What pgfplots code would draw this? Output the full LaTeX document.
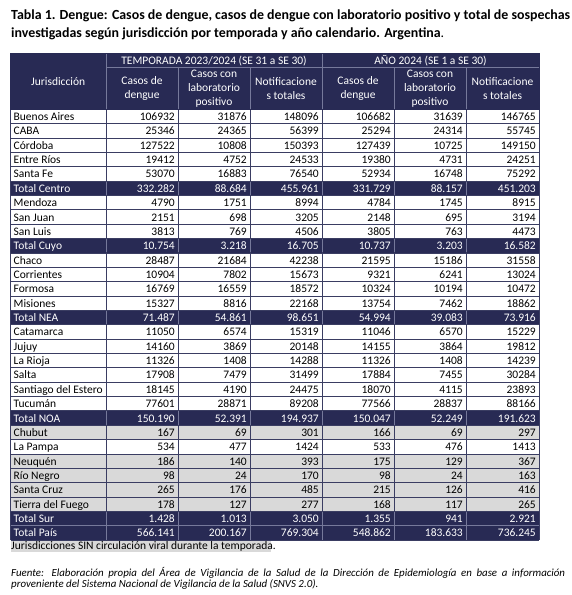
\documentclass[border=0pt]{standalone}
\usepackage{fontspec}
\setmainfont{Carlito}
\usepackage{pgfplots}
\usepackage{pgfplotstable}
\pgfplotsset{compat=1.18}
\definecolor{navy}{RGB}{40,42,84}
\definecolor{gridc}{RGB}{58,61,98}
\definecolor{lgrid}{RGB}{118,121,155}
\definecolor{rowgray}{RGB}{217,217,217}
\newcommand\body{\fontsize{11.5}{14}\selectfont}

\pgfplotstableread[col sep=comma,row sep=\\]{
r,name,a,b,c,d,e,f\\
0,Buenos Aires,106932,31876,148096,106682,31639,146765\\
1,CABA,25346,24365,56399,25294,24314,55745\\
2,Córdoba,127522,10808,150393,127439,10725,149150\\
3,Entre Ríos,19412,4752,24533,19380,4731,24251\\
4,Santa Fe,53070,16883,76540,52934,16748,75292\\
6,Mendoza,4790,1751,8994,4784,1745,8915\\
7,San Juan,2151,698,3205,2148,695,3194\\
8,San Luis,3813,769,4506,3805,763,4473\\
10,Chaco,28487,21684,42238,21595,15186,31558\\
11,Corrientes,10904,7802,15673,9321,6241,13024\\
12,Formosa,16769,16559,18572,10324,10194,10472\\
13,Misiones,15327,8816,22168,13754,7462,18862\\
15,Catamarca,11050,6574,15319,11046,6570,15229\\
16,Jujuy,14160,3869,20148,14155,3864,19812\\
17,La Rioja,11326,1408,14288,11326,1408,14239\\
18,Salta,17908,7479,31499,17884,7455,30284\\
19,Santiago del Estero,18145,4190,24475,18070,4115,23893\\
20,Tucumán,77601,28871,89208,77566,28837,88166\\
22,Chubut,167,69,301,166,69,297\\
23,La Pampa,534,477,1424,533,476,1413\\
24,Neuquén,186,140,393,175,129,367\\
25,Río Negro,98,24,170,98,24,163\\
26,Santa Cruz,265,176,485,215,126,416\\
27,Tierra del Fuego,178,127,277,168,117,265\\
}\prov

\pgfplotstableread[col sep=comma,row sep=\\]{
r,name,a,b,c,d,e,f\\
5,Total Centro,332.282,88.684,455.961,331.729,88.157,451.203\\
9,Total Cuyo,10.754,3.218,16.705,10.737,3.203,16.582\\
14,Total NEA,71.487,54.861,98.651,54.994,39.083,73.916\\
21,Total NOA,150.190,52.391,194.937,150.047,52.249,191.623\\
28,Total Sur,1.428,1.013,3.050,1.355,941,2.921\\
29,Total País,566.141,200.167,769.304,548.862,183.633,736.245\\
}\totals

% #1 table, #2 column, #3 x, #4 anchor, #5 text colour
\newcommand\tabcol[5]{%
\addplot[draw=none, mark=none, nodes near coords, point meta=explicit symbolic,
  every node near coord/.style={anchor=#4, inner sep=0pt, font=\body, text=#5}]
  table[x expr=#3, y expr={109.3+14.36*(\thisrow{r}+0.5)+4.0}, meta=#2]{#1};}

\newcommand\rowy[1]{109.3+14.36*#1}
\newcommand\lightv[1]{%
  \draw[lgrid, line width=0.6pt] (axis cs:#1,{\rowy{5}+0.5}) -- (axis cs:#1,{\rowy{6}-0.5});
  \draw[lgrid, line width=0.6pt] (axis cs:#1,{\rowy{9}+0.5}) -- (axis cs:#1,{\rowy{10}-0.5});
  \draw[lgrid, line width=0.6pt] (axis cs:#1,{\rowy{14}+0.5}) -- (axis cs:#1,{\rowy{15}-0.5});
  \draw[lgrid, line width=0.6pt] (axis cs:#1,{\rowy{21}+0.5}) -- (axis cs:#1,{\rowy{22}-0.5});
  \draw[lgrid, line width=0.6pt] (axis cs:#1,{\rowy{28}+0.5}) -- (axis cs:#1,{\rowy{30}-0.5});}

\begin{document}
\begin{tikzpicture}
\begin{axis}[width=571pt, height=595pt, scale only axis,
  xmin=0, xmax=571, ymin=0, ymax=595, y dir=reverse,
  hide axis, clip=false]
\addplot[draw=none, mark=none] coordinates {(0,0) (571,595)};
% backgrounds
\fill[navy] (axis cs:10.5,53.3) rectangle (axis cs:539,109.3);
\pgfplotsinvokeforeach{5,9,14,21,28,29}{%
  \fill[navy] (axis cs:10.5,{\rowy{#1}}) rectangle (axis cs:539,{\rowy{(#1+1)}});}
\pgfplotsinvokeforeach{22,24,25,26,27}{%
  \fill[rowgray] (axis cs:10.5,{\rowy{#1}}) rectangle (axis cs:539,{\rowy{(#1+1)}});}
% grid in body
\pgfplotsinvokeforeach{0,...,30}{%
  \draw[gridc, line width=0.8pt] (axis cs:10.5,{\rowy{#1}}) -- (axis cs:539,{\rowy{#1}});}
\pgfplotsinvokeforeach{10.5,106,178,250,322,394,466,539}{%
  \draw[gridc, line width=0.8pt] (axis cs:#1,109.3) -- (axis cs:#1,{\rowy{30}});}
% light verticals over dark rows
\pgfplotsinvokeforeach{106,178,250,322,394,466}{\lightv{#1}}
\draw[lgrid, line width=0.6pt] (axis cs:10.5,{\rowy{29}}) -- (axis cs:539,{\rowy{29}});
% header lines
\draw[lgrid, line width=0.6pt] (axis cs:106,53.8) -- (axis cs:106,109);
\draw[lgrid, line width=0.6pt] (axis cs:322,53.8) -- (axis cs:322,109);
\draw[lgrid, line width=0.6pt] (axis cs:106,67.5) -- (axis cs:538.5,67.5);
\pgfplotsinvokeforeach{178,250,394,466}{%
  \draw[lgrid, line width=0.6pt] (axis cs:#1,67.5) -- (axis cs:#1,109);}
\draw[navy, line width=0.8pt] (axis cs:10.5,53.3) rectangle (axis cs:539,109.3);
% header texts
\node[font=\body, text=white, anchor=base] at (axis cs:58.2,85.4) {Jurisdicción};
\node[font=\body, text=white, anchor=base] at (axis cs:214,64.4) {TEMPORADA 2023/2024 (SE 31 a SE 30)};
\node[font=\body, text=white, anchor=base] at (axis cs:430.5,64.4) {AÑO 2024 (SE 1 a SE 30)};
\node[font=\body, text=white, align=center, anchor=center, inner sep=0pt] at (axis cs:142,88.4) {Casos de\\dengue};
\node[font=\body, text=white, align=center, anchor=center, inner sep=0pt] at (axis cs:214,88.4) {Casos con\\laboratorio\\positivo};
\node[font=\body, text=white, align=center, anchor=center, inner sep=0pt] at (axis cs:286,88.4) {Notificacione\\s totales};
\node[font=\body, text=white, align=center, anchor=center, inner sep=0pt] at (axis cs:358,88.4) {Casos de\\dengue};
\node[font=\body, text=white, align=center, anchor=center, inner sep=0pt] at (axis cs:430,88.4) {Casos con\\laboratorio\\positivo};
\node[font=\body, text=white, align=center, anchor=center, inner sep=0pt] at (axis cs:502.5,88.4) {Notificacione\\s totales};
% body texts
\tabcol{\prov}{name}{13.5}{base west}{black}
\tabcol{\prov}{a}{175}{base east}{black}
\tabcol{\prov}{b}{247}{base east}{black}
\tabcol{\prov}{c}{319}{base east}{black}
\tabcol{\prov}{d}{391}{base east}{black}
\tabcol{\prov}{e}{463}{base east}{black}
\tabcol{\prov}{f}{536}{base east}{black}
\tabcol{\totals}{name}{13.5}{base west}{white}
\tabcol{\totals}{a}{175}{base east}{white}
\tabcol{\totals}{b}{247}{base east}{white}
\tabcol{\totals}{c}{319}{base east}{white}
\tabcol{\totals}{d}{391}{base east}{white}
\tabcol{\totals}{e}{463}{base east}{white}
\tabcol{\totals}{f}{536}{base east}{white}
% title
\node[font=\bfseries\fontsize{13.9}{16}\selectfont, anchor=base west, inner sep=0pt] at (axis cs:11,19.8)
  {Tabla 1. Dengue: Casos de dengue, casos de dengue con laboratorio positivo y total de sospechas};
\node[font=\bfseries\fontsize{13.9}{16}\selectfont, anchor=base west, inner sep=0pt] at (axis cs:11,37.6)
  {investigadas según jurisdicción por temporada y año calendario. Argentina{\mdseries.}};
% footnotes
\fill[rowgray] (axis cs:10.5,540.6) rectangle (axis cs:271,552);
\node[font=\body, anchor=base west, inner sep=0pt] at (axis cs:11,549.6)
  {Jurisdicciones SIN circulación viral durante la temporada.};
\node[font=\itshape\fontsize{10.9}{12}\selectfont, anchor=base west, inner sep=0pt] at (axis cs:11,576.6)
  {\makebox[554pt][s]{Fuente: Elaboración propia del Área de Vigilancia de la Salud de la Dirección de Epidemiología en base a información}};
\node[font=\itshape\fontsize{10.9}{12}\selectfont, anchor=base west, inner sep=0pt] at (axis cs:11,587.2)
  {proveniente del Sistema Nacional de Vigilancia de la Salud (SNVS 2.0).};
\end{axis}
\end{tikzpicture}
\end{document}
